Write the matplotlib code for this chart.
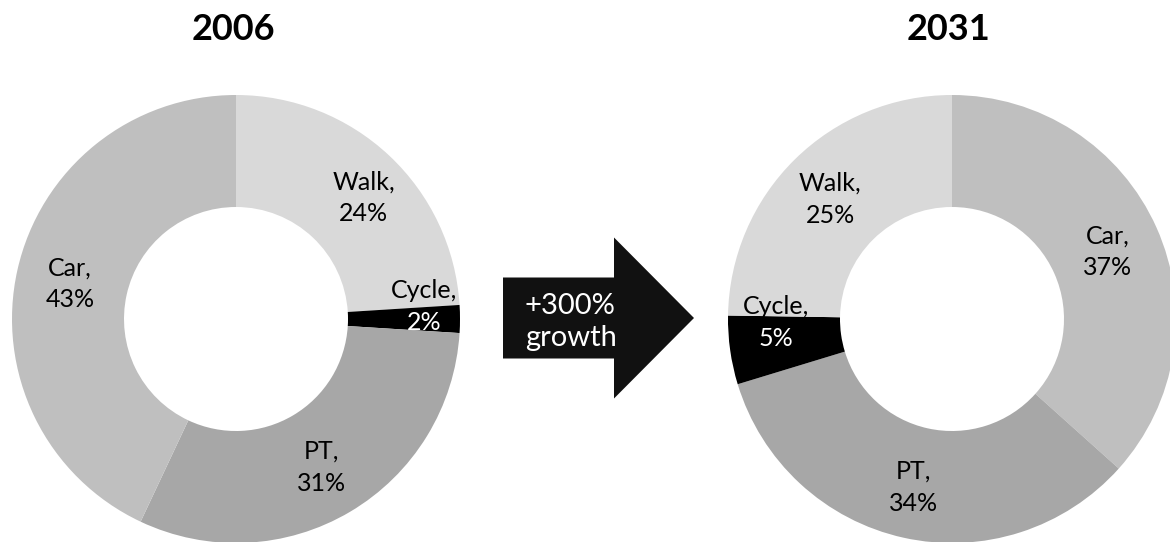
import numpy as np
import matplotlib
matplotlib.use("Agg")
import matplotlib.pyplot as plt
import matplotlib.patches as mpatches

plt.rcParams['font.family'] = ['Lato', 'DejaVu Sans']

# ---- data ----
modes_2006 = ["Walk", "Cycle", "PT", "Car"]
shares_2006 = [24, 2, 31, 43]
modes_2031 = ["Car", "PT", "Cycle", "Walk"]
shares_2031 = [37, 34, 5, 25]
titles = ["2006", "2031"]
arrow_text = "+300%\ngrowth"

# ---- style ----
colors = {"Walk": "#d9d9d9", "Cycle": "#000000", "PT": "#a7a7a7", "Car": "#bfbfbf"}
W, H = 1170, 542
R = 224
label_dist = {"Walk": 0.78, "Cycle": 0.84, "PT": 0.77, "Car": 0.76}
# small pixel nudges for label placement (dx, dy_up)
nudge = {
    ("2006", "Walk"): (8, -6), ("2006", "Cycle"): (0, 12),
    ("2006", "PT"): (-2, 0), ("2006", "Car"): (0, -2),
    ("2031", "Walk"): (1, -5), ("2031", "Cycle"): (10, 23),
    ("2031", "PT"): (-1, 0), ("2031", "Car"): (0, -2),
}

fig = plt.figure(figsize=(W / 100, H / 100), dpi=100)
ax = fig.add_axes([0, 0, 1, 1])


def donut(cx, cy, modes, shares, title):
    ax.pie(shares, colors=[colors[m] for m in modes], startangle=90,
           counterclock=False, center=(cx, cy), radius=R,
           wedgeprops=dict(width=R / 2, linewidth=0), frame=True)
    total = sum(shares)
    cum = 0
    for m, s in zip(modes, shares):
        mid = (cum + s / 2) / total
        cum += s
        ang = np.deg2rad(90 - 360 * mid)
        r = R * label_dist[m]
        dx, dy = nudge[(title, m)]
        x = cx + r * np.cos(ang) + dx
        y = cy + r * np.sin(ang) + dy
        c2 = "white" if m == "Cycle" else "black"
        ax.text(x, y + 16, f"{m},", ha='center', va='center', fontsize=18,
                color="black", zorder=5)
        ax.text(x, y - 16, f"{s}%", ha='center', va='center', fontsize=18,
                color=c2, zorder=5)
    ax.text(cx - 3, H - 29, title, ha='center', va='center', fontsize=26,
            fontweight='bold', color='black')


donut(236, H - 319, modes_2006, shares_2006, titles[0])
donut(952, H - 319, modes_2031, shares_2031, titles[1])
ax.set_xlim(0, W)
ax.set_ylim(0, H)
ax.set_aspect('equal')
ax.axis('off')

arrow = mpatches.FancyArrow(503, H - 318, 191, 0, width=81, head_width=161,
                            head_length=80, length_includes_head=True,
                            color="#111111", linewidth=0)
ax.add_patch(arrow)
ax.text(525, H - 322, arrow_text, ha='left', va='center', fontsize=21,
        color='white', linespacing=1.25)

fig.savefig("out.png", dpi=100)
